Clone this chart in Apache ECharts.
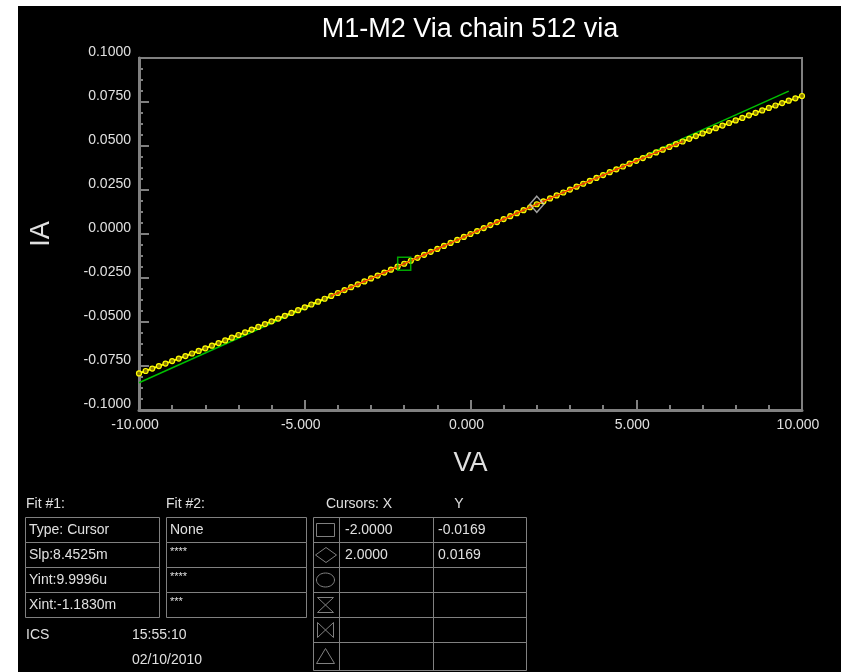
<!DOCTYPE html>
<html><head><meta charset="utf-8">
<script src="https://cdn.jsdelivr.net/npm/echarts@6/dist/echarts.min.js"></script>
<style>html,body{margin:0;padding:0;background:#fff}#c{width:841px;height:672px}</style>
</head><body><div id="c"></div>
<script>
// Sweep voltage (V) and measured current (A)
var VA = [-10,-9.8,-9.6,-9.4,-9.2,-9,-8.8,-8.6,-8.4,-8.2,-8,-7.8,-7.6,-7.4,-7.2,-7,-6.8,-6.6,-6.4,-6.2,-6,-5.8,-5.6,-5.4,-5.2,-5,-4.8,-4.6,-4.4,-4.2,-4,-3.8,-3.6,-3.4,-3.2,-3,-2.8,-2.6,-2.4,-2.2,-2,-1.8,-1.6,-1.4,-1.2,-1,-0.8,-0.6,-0.4,-0.2,0,0.2,0.4,0.6,0.8,1,1.2,1.4,1.6,1.8,2,2.2,2.4,2.6,2.8,3,3.2,3.4,3.6,3.8,4,4.2,4.4,4.6,4.8,5,5.2,5.4,5.6,5.8,6,6.2,6.4,6.6,6.8,7,7.2,7.4,7.6,7.8,8,8.2,8.4,8.6,8.8,9,9.2,9.4,9.6,9.8,10];
var IA = [-0.07920,-0.07783,-0.07645,-0.07505,-0.07364,-0.07222,-0.07079,-0.06934,-0.06789,-0.06642,-0.06494,
 -0.06346,-0.06196,-0.06045,-0.05893,-0.05740,-0.05587,-0.05432,-0.05277,-0.05120,-0.04963,
 -0.04805,-0.04647,-0.04487,-0.04327,-0.04166,-0.04005,-0.03843,-0.03680,-0.03517,-0.03353,
 -0.03188,-0.03024,-0.02858,-0.02692,-0.02526,-0.02360,-0.02193,-0.02025,-0.01858,-0.01690,
 -0.01521,-0.01353,-0.01184,-0.01015,-0.00846,-0.00677,-0.00508,-0.00339,-0.00169,
 0,
 0.00169,0.00339,0.00508,0.00677,0.00846,0.01015,0.01184,0.01353,0.01521,0.01689,
 0.01857,0.02024,0.02191,0.02358,0.02524,0.02690,0.02855,0.03020,0.03184,0.03348,
 0.03511,0.03673,0.03835,0.03996,0.04156,0.04316,0.04475,0.04633,0.04790,0.04946,
 0.05101,0.05256,0.05409,0.05562,0.05713,0.05863,0.06013,0.06161,0.06308,0.06453,
 0.06598,0.06741,0.06884,0.07024,0.07164,0.07302,0.07439,0.07574,0.07708,0.07840];
// Fit #1 line (cursor fit) end points
var fitX = [-10, 9.6];
var fitY = [-0.084515, 0.081154];
// Cursors
var cursorX = [-2.0, 2.0];
var cursorY = [-0.0169, 0.0169];
// Axis ranges
var xRange = [-10, 10, 5];
var yRange = [-0.1, 0.1, 0.025];
// Text panels
var fit1Rows = ['Type: Cursor', 'Slp:8.4525m', 'Yint:9.9996u', 'Xint:-1.1830m'];
var fit2Rows = ['None', '****', '****', '***'];
var cursorXText = ['-2.0000', '2.0000', '', '', '', ''];
var cursorYText = ['-0.0169', '0.0169', '', '', '', ''];

var pairs = VA.map(function (v, i) { return [v, IA[i]]; });
var redPairs = pairs.slice(29, 83);
var fitPairs = fitX.map(function (v, i) { return [v, fitY[i]]; });

var GRAY = '#808080', TXT = '#e0e0e0', FONT = 'Liberation Sans, Arial, sans-serif';
function txt(x, y, s, size, align, color) {
  return { type: 'text', x: x, y: y, silent: true,
    style: { text: s, fill: color || TXT, font: (size || 14) + 'px ' + FONT,
      align: align || 'left', verticalAlign: 'middle', textAlign: align || 'left', textVerticalAlign: 'middle' } };
}
function rect(x, y, w, h) {
  return { type: 'rect', shape: { x: x, y: y, width: w, height: h }, silent: true,
    style: { fill: null, stroke: GRAY, lineWidth: 1 } };
}
function line(x1, y1, x2, y2) {
  return { type: 'line', shape: { x1: x1, y1: y1, x2: x2, y2: y2 }, silent: true,
    style: { stroke: GRAY, lineWidth: 1 } };
}
function poly(points) {
  return { type: 'polyline', shape: { points: points }, silent: true,
    style: { fill: null, stroke: GRAY, lineWidth: 1 } };
}

var g = [];
g.push({ type: 'rect', shape: { x: 0, y: 0, width: 841, height: 6 }, style: { fill: '#fff' }, silent: true });
g.push({ type: 'rect', shape: { x: 0, y: 0, width: 18, height: 672 }, style: { fill: '#fff' }, silent: true });
g.push(txt(470, 30, 'M1-M2 Via chain 512 via', 27, 'center', '#ffffff'));
// Fit tables
g.push(txt(26, 504, 'Fit #1:'));
g.push(txt(166, 504, 'Fit #2:'));
for (var r = 0; r < 4; r++) {
  var y0 = 517.5 + r * 25;
  g.push(rect(25.5, y0, 134, 25));
  g.push(rect(166.5, y0, 140, 25));
  g.push(txt(29, y0 + 13, fit1Rows[r]));
  if (r === 0) g.push(txt(170, y0 + 13, fit2Rows[r]));
  else g.push(txt(170, y0 + 9, fit2Rows[r], 11));
}
g.push(txt(26, 635, 'ICS'));
g.push(txt(132, 635, '15:55:10'));
g.push(txt(132, 660, '02/10/2010'));
// Cursor table
g.push(txt(326, 504, 'Cursors: X'));
g.push(txt(459, 504, 'Y', 14, 'center'));
var rowTops = [517.5, 542.5, 567.5, 592.5, 617.5, 642.5, 670.5];
g.push(rect(313.5, 517.5, 213, 153));
g.push(line(339.5, 517.5, 339.5, 670.5));
g.push(line(433.5, 517.5, 433.5, 670.5));
for (var k = 1; k < 6; k++) g.push(line(313.5, rowTops[k], 526.5, rowTops[k]));
for (var k2 = 0; k2 < 6; k2++) {
  var cy = (rowTops[k2] + rowTops[k2 + 1]) / 2;
  if (cursorXText[k2]) g.push(txt(345, cy, cursorXText[k2]));
  if (cursorYText[k2]) g.push(txt(438, cy, cursorYText[k2]));
}
// icons
g.push(rect(316.5, 523.5, 18, 13));
g.push(poly([[315.5, 555], [326, 547.5], [336.5, 555], [326, 562.5], [315.5, 555]]));
g.push({ type: 'ellipse', shape: { cx: 325.5, cy: 580, rx: 9, ry: 7 }, silent: true, style: { fill: null, stroke: GRAY, lineWidth: 1 } });
g.push(poly([[317.5, 597.5], [333.5, 597.5], [317.5, 612.5], [333.5, 612.5], [317.5, 597.5]]));
g.push(poly([[317.5, 622.5], [317.5, 637.5], [333.5, 622.5], [333.5, 637.5], [317.5, 622.5]]));
g.push(poly([[316.5, 663.5], [325.5, 648.5], [334.5, 663.5], [316.5, 663.5]]));

var chart = echarts.init(document.getElementById('c'), null, { renderer: 'canvas' });
chart.setOption({
  backgroundColor: '#000',
  animation: false,
  grid: { left: 139, top: 58, right: 39, bottom: 262, show: true, borderColor: GRAY, borderWidth: 2, backgroundColor: 'transparent' },
  xAxis: {
    type: 'value', min: xRange[0], max: xRange[1], interval: xRange[2],
    name: 'VA', nameLocation: 'middle', nameGap: 40,
    nameTextStyle: { color: TXT, fontSize: 27, fontFamily: FONT },
    axisLine: { show: true, onZero: false, lineStyle: { color: GRAY, width: 3 } },
    axisTick: { show: true, inside: true, length: 10, lineStyle: { color: GRAY, width: 2 } },
    minorTick: { show: true, splitNumber: 5, length: 5, lineStyle: { color: GRAY, width: 2 } },
    splitLine: { show: false },
    axisLabel: { color: TXT, fontSize: 14, fontFamily: FONT, margin: 8, padding: [0, 8, 0, 0],
      formatter: function (v) { return v.toFixed(3); } }
  },
  yAxis: {
    type: 'value', min: yRange[0], max: yRange[1], interval: yRange[2],
    name: 'IA', nameLocation: 'middle', nameGap: 84, nameRotate: 90,
    nameTextStyle: { color: TXT, fontSize: 27, fontFamily: FONT },
    axisLine: { show: true, onZero: false, lineStyle: { color: GRAY, width: 3 } },
    axisTick: { show: true, inside: true, length: 10, lineStyle: { color: GRAY, width: 2 } },
    minorTick: { show: true, splitNumber: 4, length: 4, lineStyle: { color: GRAY, width: 2 } },
    splitLine: { show: false },
    axisLabel: { color: TXT, fontSize: 14, fontFamily: FONT, margin: 8, verticalAlign: 'bottom', lineHeight: 12,
      formatter: function (v) { return v.toFixed(4); } }
  },
  graphic: g,
  series: [
    { type: 'line', data: fitPairs, showSymbol: false, z: 2,
      lineStyle: { color: '#00c000', width: 1.5 }, silent: true },
    { type: 'line', data: pairs, z: 3, showAllSymbol: true, symbol: 'circle', symbolSize: 5,
      itemStyle: { color: '#8a7a00', borderColor: '#ffff00', borderWidth: 1.2 },
      lineStyle: { color: '#ffff00', width: 2 }, silent: true },
    { type: 'line', data: redPairs, showSymbol: false, z: 4,
      lineStyle: { color: '#ff2a00', width: 1.2 }, silent: true },
    { type: 'scatter', data: [[cursorX[0], cursorY[0]]], symbol: 'rect', symbolSize: 13, z: 5,
      itemStyle: { color: 'transparent', borderColor: '#00d000', borderWidth: 1.5 }, silent: true },
    { type: 'scatter', data: [[cursorX[1], cursorY[1]]], symbol: 'diamond', symbolSize: [14, 16], z: 5,
      itemStyle: { color: 'transparent', borderColor: '#c8c8c8', borderWidth: 1.5 }, silent: true }
  ]
});
</script></body></html>
